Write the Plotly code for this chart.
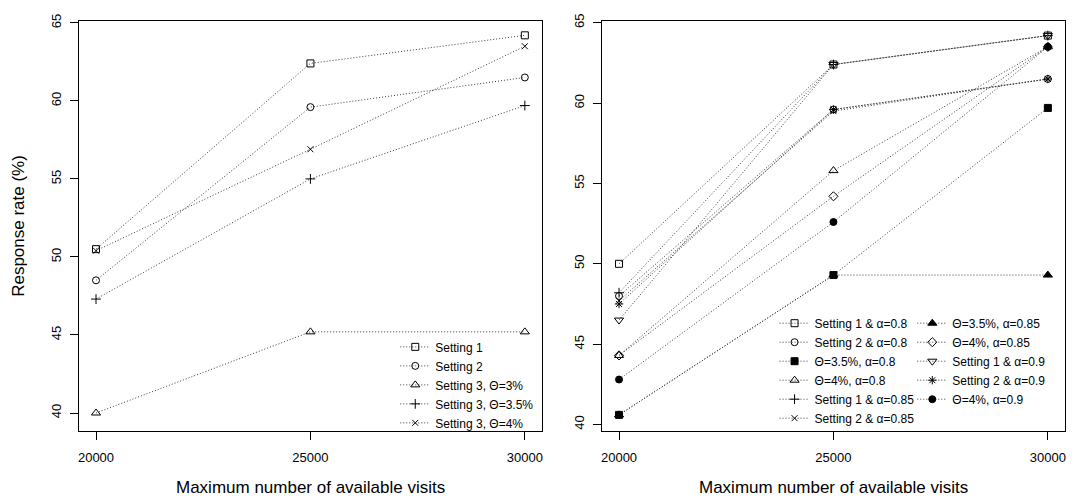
import plotly.graph_objects as go

visits = [20000, 25000, 30000]
x_ticks = [20000, 25000, 30000]
x_tick_labels = ["20000", "25000", "30000"]
y_ticks = [40, 45, 50, 55, 60, 65]

# Left panel
left_names = ["Setting 1", "Setting 2", "Setting 3, Θ=3%", "Setting 3, Θ=3.5%", "Setting 3, Θ=4%"]
left_setting1 = [50.5, 62.4, 64.2]
left_setting2 = [48.5, 59.6, 61.5]
left_s3_theta3 = [40.0, 45.2, 45.2]
left_s3_theta35 = [47.3, 55.0, 59.7]
left_s3_theta4 = [50.4, 56.9, 63.5]
left_values = [left_setting1, left_setting2, left_s3_theta3, left_s3_theta35, left_s3_theta4]
left_symbols = ["square-open", "circle-open", "triangle-up-open", "cross-thin-open", "x-thin-open"]

# Right panel
right_names = ["Setting 1 & α=0.8", "Setting 2 & α=0.8", "Θ=3.5%, α=0.8", "Θ=4%, α=0.8",
               "Setting 1 & α=0.85", "Setting 2 & α=0.85",
               "Θ=3.5%, α=0.85", "Θ=4%, α=0.85", "Setting 1 & α=0.9", "Setting 2 & α=0.9", "Θ=4%, α=0.9"]
r_s1_a08 = [50.0, 62.4, 64.2]
r_s2_a08 = [48.0, 59.6, 61.5]
r_t35_a08 = [40.6, 49.3, 59.7]
r_t4_a08 = [44.3, 55.8, 63.5]
r_s1_a085 = [48.2, 62.4, 64.2]
r_s2_a085 = [47.7, 59.5, 61.5]
r_t35_a085 = [40.6, 49.3, 49.3]
r_t4_a085 = [44.3, 54.2, 63.5]
r_s1_a09 = [46.5, 62.4, 64.2]
r_s2_a09 = [47.5, 59.6, 61.5]
r_t4_a09 = [42.8, 52.6, 63.5]
right_values = [r_s1_a08, r_s2_a08, r_t35_a08, r_t4_a08, r_s1_a085, r_s2_a085,
                r_t35_a085, r_t4_a085, r_s1_a09, r_s2_a09, r_t4_a09]
right_symbols = ["square-open", "circle-open", "square", "triangle-up-open", "cross-thin-open", "x-thin-open",
                 "triangle-up", "diamond-open", "triangle-down-open", "asterisk-open", "circle"]

W, H = 1072, 498
FONT = "Liberation Sans, Arial, sans-serif"
LINE = dict(color="#3a3a3a", width=1, dash="1px,2px")

fig = go.Figure()


def msize(sym):
    if sym == "circle":
        return 7
    if sym.startswith("triangle"):
        return 8
    if sym.startswith("cross"):
        return 7
    if sym.startswith("x"):
        return 6
    if sym.startswith("asterisk"):
        return 7
    return 7


for name, vals, sym in zip(left_names, left_values, left_symbols):
    fig.add_trace(go.Scatter(
        x=visits, y=vals, name=name, mode="lines+markers",
        line=LINE,
        marker=dict(symbol=sym, size=msize(sym), color="black", line=dict(color="black", width=1)),
        xaxis="x", yaxis="y", legend="legend",
    ))

for i, (name, vals, sym) in enumerate(zip(right_names, right_values, right_symbols)):
    fig.add_trace(go.Scatter(
        x=visits, y=vals, name=name, mode="lines+markers",
        line=LINE,
        marker=dict(symbol=sym, size=msize(sym), color="black", line=dict(color="black", width=1)),
        xaxis="x2", yaxis="y2", legend="legend2" if i < 6 else "legend3",
    ))

ydom = [1 - 430 / H, 1 - 14 / H]
axis_common = dict(
    showline=True, linecolor="black", linewidth=1, mirror=True,
    ticks="outside", ticklen=8, tickcolor="black", tickwidth=1,
    showgrid=False, zeroline=False,
    tickfont=dict(family=FONT, size=13, color="black"),
)

legend_common = dict(xanchor="left", yanchor="top", bgcolor="rgba(0,0,0,0)",
                     font=dict(family=FONT, size=12, color="black"),
                     itemwidth=30, tracegroupgap=0)

fig.update_layout(
    width=W, height=H,
    margin=dict(l=0, r=0, t=0, b=0),
    paper_bgcolor="white", plot_bgcolor="white",
    font=dict(family=FONT, color="black"),
    xaxis=dict(domain=[78 / W, 542 / W], range=[19600, 30400], tickvals=x_ticks, ticktext=x_tick_labels,
               ticklabelstandoff=6, anchor="y", **axis_common),
    yaxis=dict(domain=ydom, range=[38.85, 65.13], tickvals=y_ticks, tickangle=-90,
               ticklabelstandoff=4, anchor="x", **axis_common),
    xaxis2=dict(domain=[602 / W, 1066 / W], range=[19600, 30400], tickvals=x_ticks, ticktext=x_tick_labels,
                ticklabelstandoff=6, anchor="y2", **axis_common),
    yaxis2=dict(domain=ydom, range=[39.6, 65.12], tickvals=y_ticks, tickangle=-90,
                ticklabelstandoff=4, anchor="x2", **axis_common),
    legend=dict(x=395 / W, y=1 - 330 / H, **legend_common),
    legend2=dict(x=775 / W, y=1 - 306 / H, **legend_common),
    legend3=dict(x=913 / W, y=1 - 306 / H, **legend_common),
    annotations=[
        dict(text="Maximum number of available visits", x=310 / W, y=1 - 487 / H,
             xref="paper", yref="paper", showarrow=False, xanchor="center", yanchor="middle",
             font=dict(family=FONT, size=17, color="black")),
        dict(text="Maximum number of available visits", x=834 / W, y=1 - 487 / H,
             xref="paper", yref="paper", showarrow=False, xanchor="center", yanchor="middle",
             font=dict(family=FONT, size=17, color="black")),
        dict(text="Response rate (%)", x=18 / W, y=1 - 222 / H, textangle=-90,
             xref="paper", yref="paper", showarrow=False, xanchor="center", yanchor="middle",
             font=dict(family=FONT, size=17, color="black")),
    ],
)

fig.write_html("out.html", config={"displayModeBar": False},
               post_script="document.body.style.margin='0';")
